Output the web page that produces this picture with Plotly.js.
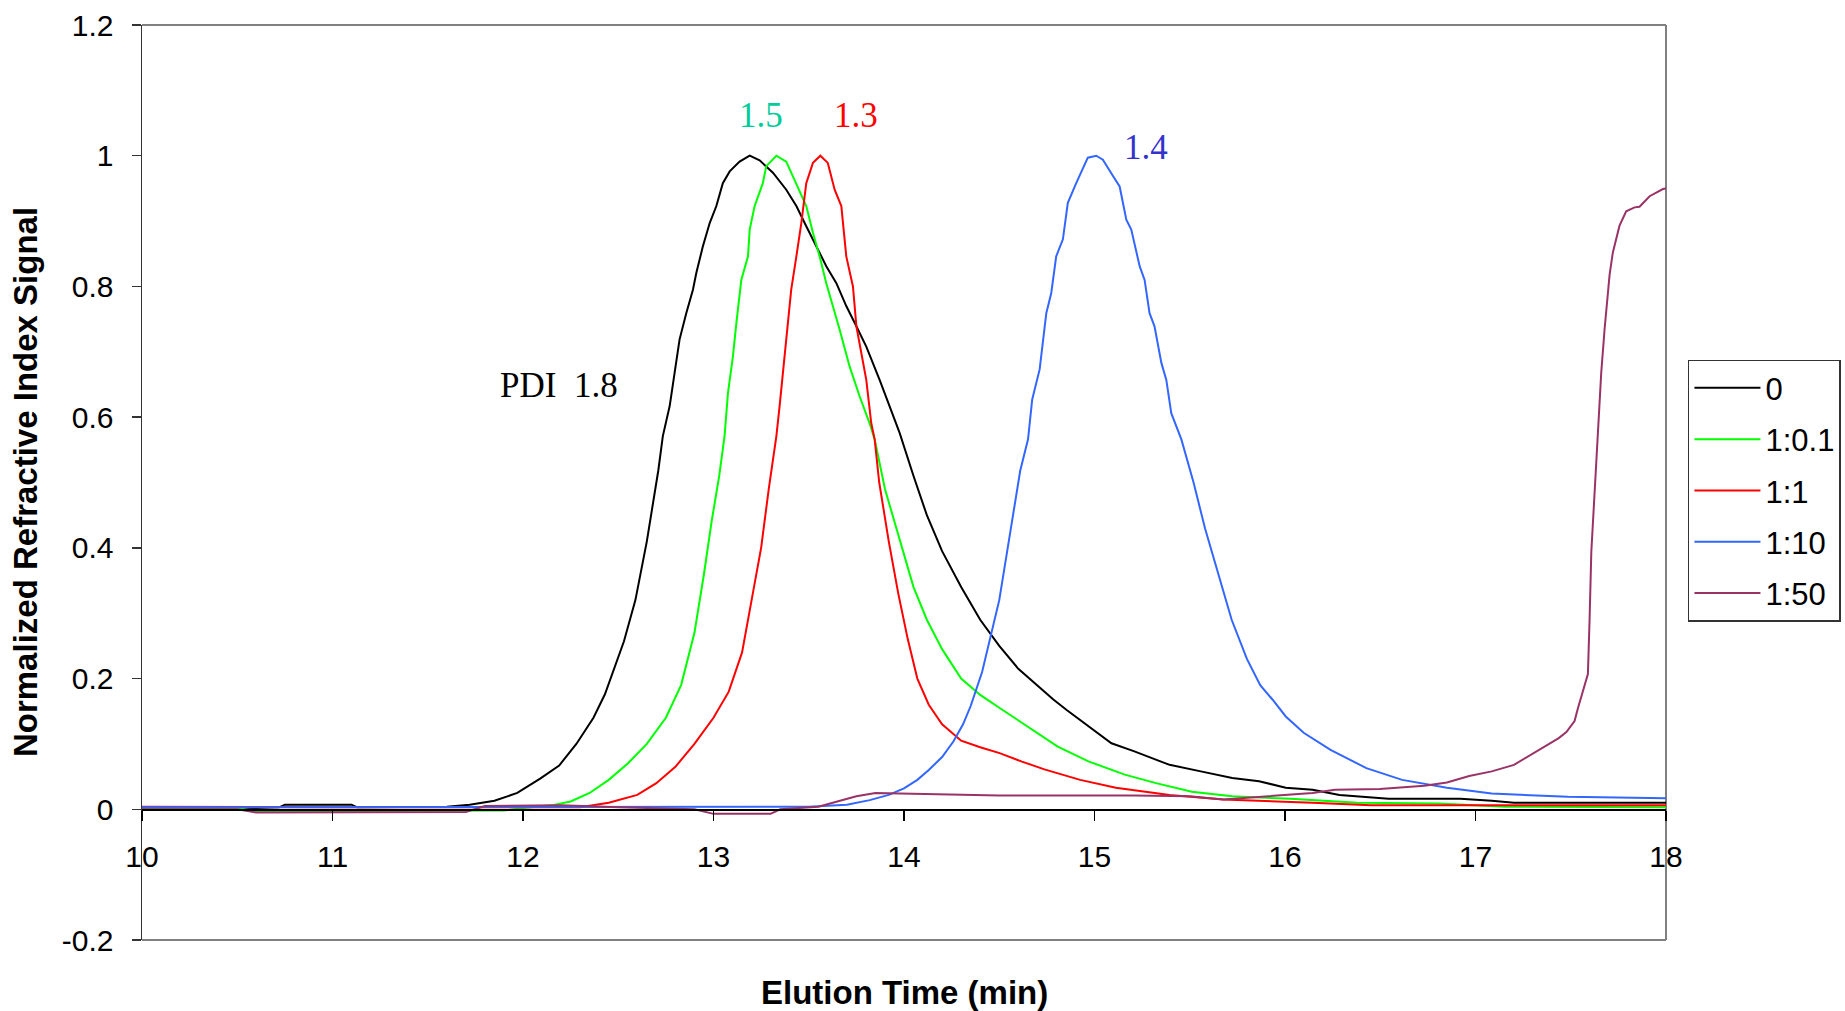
<!DOCTYPE html>
<html>
<head>
<meta charset="utf-8">
<script src="https://cdn.plot.ly/plotly-3.0.1.min.js"></script>
<style>
  html, body { margin: 0; padding: 0; background: #ffffff; }
  #chart { width: 1845px; height: 1011px; }
</style>
</head>
<body>
<div id="chart"></div>
<script>
// ---------------- data ----------------
const seriesNames = ["0", "1:0.1", "1:1", "1:10", "1:50"];
const seriesColors = ["#000000", "#00FF00", "#FF0000", "#3366FF", "#993366"];

const time0 = [10.0, 10.3, 10.6, 10.72, 10.75, 11.1, 11.13, 11.4, 11.6, 11.72, 11.85, 11.97, 12.09, 12.19, 12.28, 12.37, 12.43, 12.53, 12.59, 12.65, 12.71, 12.734, 12.770, 12.796, 12.822, 12.857, 12.892, 12.910, 12.944, 12.980, 13.015, 13.049, 13.085, 13.137, 13.19, 13.242, 13.312, 13.382, 13.435, 13.487, 13.540, 13.592, 13.645, 13.697, 13.750, 13.802, 13.872, 13.924, 13.977, 14.05, 14.12, 14.2, 14.3, 14.4, 14.5, 14.6, 14.7, 14.784, 14.854, 14.971, 15.089, 15.206, 15.394, 15.558, 15.723, 15.864, 16.004, 16.145, 16.286, 16.544, 16.920, 17.085, 17.202, 18.0];
const signal0 = [0.002, 0.003, 0.002, 0.003, 0.007, 0.007, 0.003, 0.003, 0.004, 0.007, 0.013, 0.025, 0.047, 0.067, 0.10, 0.14, 0.176, 0.257, 0.32, 0.41, 0.518, 0.571, 0.617, 0.668, 0.719, 0.759, 0.795, 0.821, 0.861, 0.897, 0.923, 0.958, 0.976, 0.991, 1.0, 0.993, 0.974, 0.948, 0.923, 0.892, 0.861, 0.831, 0.805, 0.770, 0.739, 0.708, 0.657, 0.617, 0.576, 0.51, 0.45, 0.395, 0.34, 0.29, 0.25, 0.215, 0.19, 0.168, 0.152, 0.127, 0.101, 0.089, 0.068, 0.058, 0.048, 0.043, 0.033, 0.030, 0.022, 0.016, 0.016, 0.013, 0.010, 0.010];

const time01 = [10.0, 10.5, 10.6, 11.0, 11.5, 11.9, 12.0, 12.15, 12.25, 12.35, 12.45, 12.55, 12.65, 12.75, 12.83, 12.90, 12.95, 12.99, 13.03, 13.058, 13.076, 13.102, 13.120, 13.146, 13.181, 13.190, 13.216, 13.259, 13.277, 13.330, 13.382, 13.435, 13.487, 13.522, 13.557, 13.592, 13.627, 13.662, 13.714, 13.767, 13.819, 13.846, 13.90, 13.98, 14.05, 14.12, 14.2, 14.3, 14.4, 14.502, 14.596, 14.690, 14.807, 14.971, 15.159, 15.323, 15.511, 15.723, 16.028, 16.380, 16.803, 17.155, 18.0];
const signal01 = [0.002, 0.002, -0.003, -0.003, -0.002, -0.002, 0.002, 0.006, 0.012, 0.025, 0.045, 0.07, 0.10, 0.14, 0.19, 0.27, 0.36, 0.44, 0.51, 0.571, 0.637, 0.693, 0.744, 0.810, 0.846, 0.887, 0.923, 0.958, 0.984, 1.0, 0.991, 0.958, 0.923, 0.882, 0.846, 0.805, 0.770, 0.734, 0.678, 0.632, 0.591, 0.566, 0.49, 0.41, 0.34, 0.29, 0.245, 0.20, 0.175, 0.155, 0.137, 0.119, 0.096, 0.073, 0.053, 0.040, 0.027, 0.020, 0.016, 0.010, 0.009, 0.004, 0.003];

const time1 = [10.0, 10.5, 11.0, 11.5, 12.0, 12.3, 12.45, 12.6, 12.7, 12.8, 12.9, 13.0, 13.08, 13.15, 13.2, 13.25, 13.29, 13.330, 13.347, 13.382, 13.408, 13.435, 13.461, 13.487, 13.522, 13.561, 13.600, 13.636, 13.671, 13.697, 13.732, 13.750, 13.776, 13.802, 13.828, 13.846, 13.87, 13.92, 13.97, 14.02, 14.07, 14.13, 14.2, 14.3, 14.4, 14.502, 14.619, 14.737, 14.925, 15.112, 15.394, 15.676, 16.145, 16.450, 18.0];
const signal1 = [0.004, 0.003, 0.003, 0.003, 0.003, 0.003, 0.01, 0.022, 0.04, 0.065, 0.1, 0.14, 0.18, 0.24, 0.32, 0.40, 0.49, 0.571, 0.617, 0.719, 0.795, 0.846, 0.897, 0.958, 0.989, 1.0, 0.989, 0.948, 0.923, 0.846, 0.800, 0.739, 0.698, 0.657, 0.591, 0.566, 0.50, 0.41, 0.33, 0.26, 0.20, 0.16, 0.13, 0.105, 0.095, 0.086, 0.073, 0.061, 0.045, 0.033, 0.022, 0.015, 0.010, 0.006, 0.006];

const time10 = [10.0, 11.0, 12.0, 13.0, 13.5, 13.7, 13.82, 13.92, 14.0, 14.07, 14.13, 14.2, 14.26, 14.31, 14.35, 14.41, 14.47, 14.50, 14.56, 14.61, 14.651, 14.673, 14.712, 14.747, 14.773, 14.799, 14.834, 14.860, 14.904, 14.931, 14.965, 15.009, 15.044, 15.097, 15.132, 15.167, 15.193, 15.237, 15.263, 15.289, 15.315, 15.351, 15.377, 15.403, 15.456, 15.52, 15.58, 15.65, 15.72, 15.80, 15.87, 15.934, 16.004, 16.098, 16.239, 16.427, 16.615, 16.850, 17.085, 17.484, 18.0];
const signal10 = [0.003, 0.003, 0.003, 0.003, 0.004, 0.007, 0.014, 0.022, 0.032, 0.045, 0.06, 0.08, 0.104, 0.13, 0.158, 0.21, 0.284, 0.32, 0.428, 0.518, 0.566, 0.627, 0.673, 0.759, 0.790, 0.846, 0.872, 0.928, 0.958, 0.976, 0.997, 1.0, 0.994, 0.969, 0.953, 0.902, 0.887, 0.831, 0.810, 0.759, 0.739, 0.683, 0.657, 0.606, 0.566, 0.50, 0.43, 0.36, 0.29, 0.23, 0.19, 0.168, 0.142, 0.117, 0.091, 0.063, 0.045, 0.033, 0.024, 0.019, 0.017];

const time50 = [10.0, 10.5, 10.6, 11.0, 11.5, 11.7, 11.8, 12.2, 12.5, 12.9, 13.0, 13.3, 13.35, 13.55, 13.65, 13.75, 13.85, 14.0, 14.5, 15.206, 15.5, 15.676, 15.958, 16.145, 16.262, 16.497, 16.732, 16.850, 16.967, 17.085, 17.202, 17.320, 17.389, 17.437, 17.477, 17.520, 17.538, 17.590, 17.599, 17.608, 17.634, 17.660, 17.678, 17.704, 17.721, 17.756, 17.791, 17.835, 17.861, 17.914, 17.984, 18.0];
const signal50 = [0.0, 0.0, -0.005, -0.005, -0.005, -0.004, 0.005, 0.006, 0.003, 0.0, -0.007, -0.007, 0.0, 0.004, 0.012, 0.02, 0.025, 0.024, 0.021, 0.021, 0.02, 0.015, 0.021, 0.025, 0.030, 0.031, 0.036, 0.041, 0.051, 0.058, 0.068, 0.088, 0.101, 0.109, 0.118, 0.135, 0.155, 0.207, 0.292, 0.394, 0.531, 0.668, 0.736, 0.818, 0.852, 0.893, 0.915, 0.921, 0.922, 0.938, 0.949, 0.950];

const xTickVals = [10, 11, 12, 13, 14, 15, 16, 17, 18];
const xTickText = ["10", "11", "12", "13", "14", "15", "16", "17", "18"];
const yTickVals = [-0.2, 0, 0.2, 0.4, 0.6, 0.8, 1, 1.2];
const yTickText = ["-0.2", "0", "0.2", "0.4", "0.6", "0.8", "1", "1.2"];

// PDI labels: text, x, y, colour
const pdiText = ["1.5", "1.3", "1.4", "PDI\u00a0 1.8"];
const pdiX = [13.25, 13.75, 15.27, 12.19];
const pdiY = [1.062, 1.062, 1.012, 0.648];
const pdiColors = ["#00CC99", "#FF0000", "#3333CC", "#000000"];

const xTitle = "Elution Time (min)";
const yTitle = "Normalized Refractive Index Signal";

// ---------------- build ----------------
const times = [time0, time01, time1, time10, time50];
const signals = [signal0, signal01, signal1, signal10, signal50];

const traces = seriesNames.map((name, i) => ({
  type: "scatter",
  mode: "lines",
  name: name,
  x: times[i],
  y: signals[i],
  line: { color: seriesColors[i], width: 2 },
  legendgroup: "g" + i,
  hoverinfo: "skip"
}));

const annotations = pdiText.map((t, i) => ({
  text: t, x: pdiX[i], y: pdiY[i], xref: "x", yref: "y",
  showarrow: false, xanchor: "center", yanchor: "middle",
  font: { family: "Liberation Serif, Times New Roman, serif", size: 35, color: pdiColors[i] }
}));
annotations.push({
  text: xTitle, xref: "paper", yref: "paper", x: 0.5, y: -0.057,
  xanchor: "center", yanchor: "middle", showarrow: false,
  font: { family: "Liberation Sans, Arial, sans-serif", size: 33, color: "#000000", weight: 700 }
});
annotations.push({
  text: yTitle, xref: "paper", yref: "paper", x: -0.0764, y: 0.5,
  xanchor: "center", yanchor: "middle", showarrow: false, textangle: -90,
  font: { family: "Liberation Sans, Arial, sans-serif", size: 33, color: "#000000", weight: 700 }
});

const layout = {
  width: 1845, height: 1011,
  margin: { l: 142, r: 179, t: 25, b: 71, pad: 0, autoexpand: false },
  paper_bgcolor: "#ffffff", plot_bgcolor: "#ffffff",
  font: { family: "Liberation Sans, Arial, sans-serif", size: 29, color: "#000000" },
  showlegend: true,
  legend: {
    x: 1.0144, y: 0.6342, xanchor: "left", yanchor: "top",
    bordercolor: "#333333", borderwidth: 1.5, bgcolor: "#ffffff",
    font: { family: "Liberation Sans, Arial, sans-serif", size: 31, color: "#000000" },
    traceorder: "grouped", tracegroupgap: 8, itemwidth: 66
  },
  xaxis: {
    range: [10, 18], anchor: "free", position: 0.2 / 1.4,
    tickmode: "array", tickvals: xTickVals, ticktext: xTickText,
    showline: true, linecolor: "#000000", linewidth: 1.5,
    ticks: "outside", ticklen: 10, tickwidth: 1.5, tickcolor: "#000000",
    showgrid: false, zeroline: false, ticklabelstandoff: 10,
    tickfont: { size: 30 }
  },
  yaxis: {
    range: [-0.2, 1.2],
    tickmode: "array", tickvals: yTickVals, ticktext: yTickText,
    showline: true, linecolor: "#333333", linewidth: 1.5,
    ticks: "outside", ticklen: 9, tickwidth: 1.5, tickcolor: "#333333",
    showgrid: false, zeroline: false, ticklabelstandoff: 12,
    tickfont: { size: 30 }
  },
  shapes: [
    { type: "line", xref: "paper", yref: "paper", x0: 0, x1: 1, y0: 1, y1: 1, line: { color: "#808080", width: 2 }, layer: "below" },
    { type: "line", xref: "paper", yref: "paper", x0: 1, x1: 1, y0: 0, y1: 1, line: { color: "#808080", width: 2 }, layer: "below" },
    { type: "line", xref: "paper", yref: "paper", x0: 0, x1: 1, y0: 0, y1: 0, line: { color: "#808080", width: 2 }, layer: "below" }
  ],
  annotations: annotations
};

Plotly.newPlot("chart", traces, layout, { staticPlot: true, displayModeBar: false });
</script>
</body>
</html>
